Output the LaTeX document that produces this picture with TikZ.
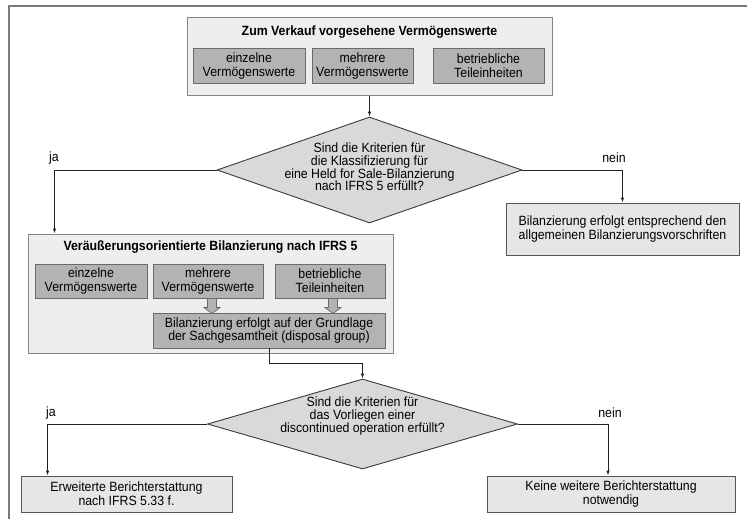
\documentclass[tikz,border=0pt]{standalone}
\usepackage{fontspec}
\setmainfont{Liberation Sans}[FakeStretch=0.92]
\usetikzlibrary{shapes.geometric,arrows.meta,calc}
\definecolor{outerfill}{HTML}{EEEEEE}
\definecolor{outerline}{HTML}{858585}
\definecolor{innerfill}{HTML}{B3B3B3}
\definecolor{innerline}{HTML}{6A6A6A}
\definecolor{diafill}{HTML}{D9D9D9}
\definecolor{diamline}{HTML}{3A3A3A}
\definecolor{boxfill}{HTML}{E6E6E6}
\definecolor{boxline}{HTML}{555555}
\definecolor{connline}{HTML}{222222}
\definecolor{framecol}{HTML}{7A7A7A}
\begin{document}
\begin{tikzpicture}[x=1pt,y=-1pt,
  every node/.style={font=\fontsize{13.4}{13.8}\selectfont, align=center, inner sep=0pt},
  outerbox/.style={rectangle, draw=outerline, fill=outerfill, line width=1pt},
  innerbox/.style={rectangle, draw=innerline, fill=innerfill, line width=0.9pt, minimum height=35pt},
  decision/.style={diamond, draw=diamline, fill=diafill, line width=0.9pt},
  difont/.style={font=\fontsize{13.4}{12.8}\selectfont},
  plainbox/.style={rectangle, draw=boxline, fill=boxfill, line width=0.9pt},
  conn/.style={draw=connline, line width=0.9pt, -{Latex[length=5pt,width=3.5pt]}},
  blockarrow/.style={draw=innerline, fill=innerfill, line width=0.8pt},
  framestyle/.style={draw=framecol, line width=1.3pt},
  lbl/.style={font=\fontsize{13.4}{13.8}\selectfont}
]
\useasboundingbox (0,0) rectangle (747,519);
% frame
\draw[framestyle] (747,6) -- (9,6) -- (9,519);

% top container
\node[outerbox, minimum width=365pt, minimum height=77pt] (b1) at (369.5,56.5) {};
\node (t1) at (369.5,32) {\bfseries Zum Verkauf vorgesehene Vermögenswerte};
\node[innerbox, minimum width=112pt] (a1) at (249,66) {einzelne\\Vermögenswerte};
\node[innerbox, minimum width=101pt] (a2) at (362.5,66) {mehrere\\Vermögenswerte};
\node[innerbox, minimum width=111pt] (a3) at (488.5,66) {betriebliche\\Teileinheiten};

% decision 1
\node[decision, minimum width=305pt, minimum height=106pt] (d1) at (369.5,170) {};
\node[difont] (d1t) at (369.5,167) {Sind die Kriterien für\\die Klassifizierung für\\eine Held for Sale-Bilanzierung\\nach IFRS 5 erfüllt?};
\node[lbl] (ja1) at (54,158) {ja};
\node[lbl] (nein1) at (614,158) {nein};

% right box 1
\node[plainbox, minimum width=233pt, minimum height=52pt] (r1) at (622.5,229) {Bilanzierung erfolgt entsprechend den\\allgemeinen Bilanzierungsvorschriften};

% middle container
\node[outerbox, minimum width=365pt, minimum height=119pt] (b2) at (210.5,293.5) {};
\node (t2) at (210.5,247) {\bfseries Veräußerungsorientierte Bilanzierung nach IFRS 5};
\node[innerbox, minimum width=112pt, minimum height=34pt] (c1) at (91,281) {einzelne\\Vermögenswerte};
\node[innerbox, minimum width=110pt, minimum height=34pt] (c2) at (208,281) {mehrere\\Vermögenswerte};
\node[innerbox, minimum width=110pt, minimum height=34pt] (c3) at (330,281) {betriebliche\\Teileinheiten};
\node[innerbox, minimum width=232pt, minimum height=35pt] (c4) at (269,330.5) {Bilanzierung erfolgt auf der Grundlage\\der Sachgesamtheit (disposal group)};

% block arrows
\foreach \src/\dx in {c2/4,c3/3}{
  \draw[blockarrow] ($(\src.south)+(\dx,0)+(-4.5,0)$) -- ++(0,9) -- ++(-3.5,0)
     -- ($(\src.south)+(\dx,0)+(0,15)$) -- ($(\src.south)+(\dx,0)+(8,9)$)
     -- ++(-3.5,0) -- ($(\src.south)+(\dx,0)+(4.5,0)$) -- cycle;
}

% decision 2
\node[decision, minimum width=310pt, minimum height=90pt] (d2) at (362.5,424) {};
\node[difont] (d2t) at (362.5,416) {Sind die Kriterien für\\das Vorliegen einer\\discontinued operation erfüllt?};
\node[lbl] (ja2) at (51,413) {ja};
\node[lbl] (nein2) at (610,413) {nein};

% bottom boxes
\node[plainbox, minimum width=211pt, minimum height=36pt] (e1) at (126.5,494) {Erweiterte Berichterstattung\\nach IFRS 5.33 f.};
\node[plainbox, minimum width=248pt, minimum height=36pt] (e2) at (611,494) {Keine weitere Berichterstattung\\notwendig};

% connectors
\draw[conn] (b1.south) -- (d1.north);
\draw[conn] (d1.west) -| ($(b2.north west)+(27,0)$);
\draw[conn] (d1.east) -| (r1.north);
\draw[conn] (c4.south) -- ++(0,15) -| (d2.north);
\draw[conn] (d2.west) -| ($(e1.north west)+(27,0)$);
\draw[conn] (d2.east) -| ($(e2.north)+(-3,0)$);
\end{tikzpicture}
\end{document}
